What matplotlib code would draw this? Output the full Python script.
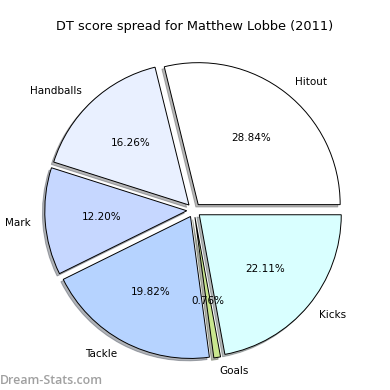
import matplotlib
matplotlib.use("Agg")
import matplotlib.pyplot as plt

labels = ["Hitout", "Handballs", "Mark", "Tackle", "Goals", "Kicks"]
shares = [28.84, 16.26, 12.20, 19.82, 0.76, 22.11]
colors = ["#ffffff", "#e9f0ff", "#c6d7ff", "#b6d3ff", "#c9e68e", "#d9ffff"]

fig = plt.figure(figsize=(3.9, 3.9), dpi=100)
ax = fig.add_axes([0.042, 0.006, 0.91, 0.91])
wedges, texts, autotexts = ax.pie(
    shares, labels=labels, colors=colors, explode=[0.05] * len(shares),
    autopct="%1.2f%%", startangle=0,
    shadow={"ox": -0.012, "oy": -0.012, "alpha": 0.4},
    wedgeprops={"edgecolor": "black", "linewidth": 0.7},
    textprops={"fontsize": 7.5},
)
ax.set_xlim(-1.25, 1.25)
ax.set_ylim(-1.25, 1.25)
ax.set_aspect("equal")
fig.text(0.5, 0.933, "DT score spread for Matthew Lobbe (2011)",
         ha="center", va="center", fontsize=9.3)
fig.text(0.0, 0.025, "Dream-Stats.com", ha="left", va="center",
         fontsize=8.9, color="#a0a0a0", family="Open Sans", fontweight="semibold")
fig.savefig("out.png", dpi=100)
